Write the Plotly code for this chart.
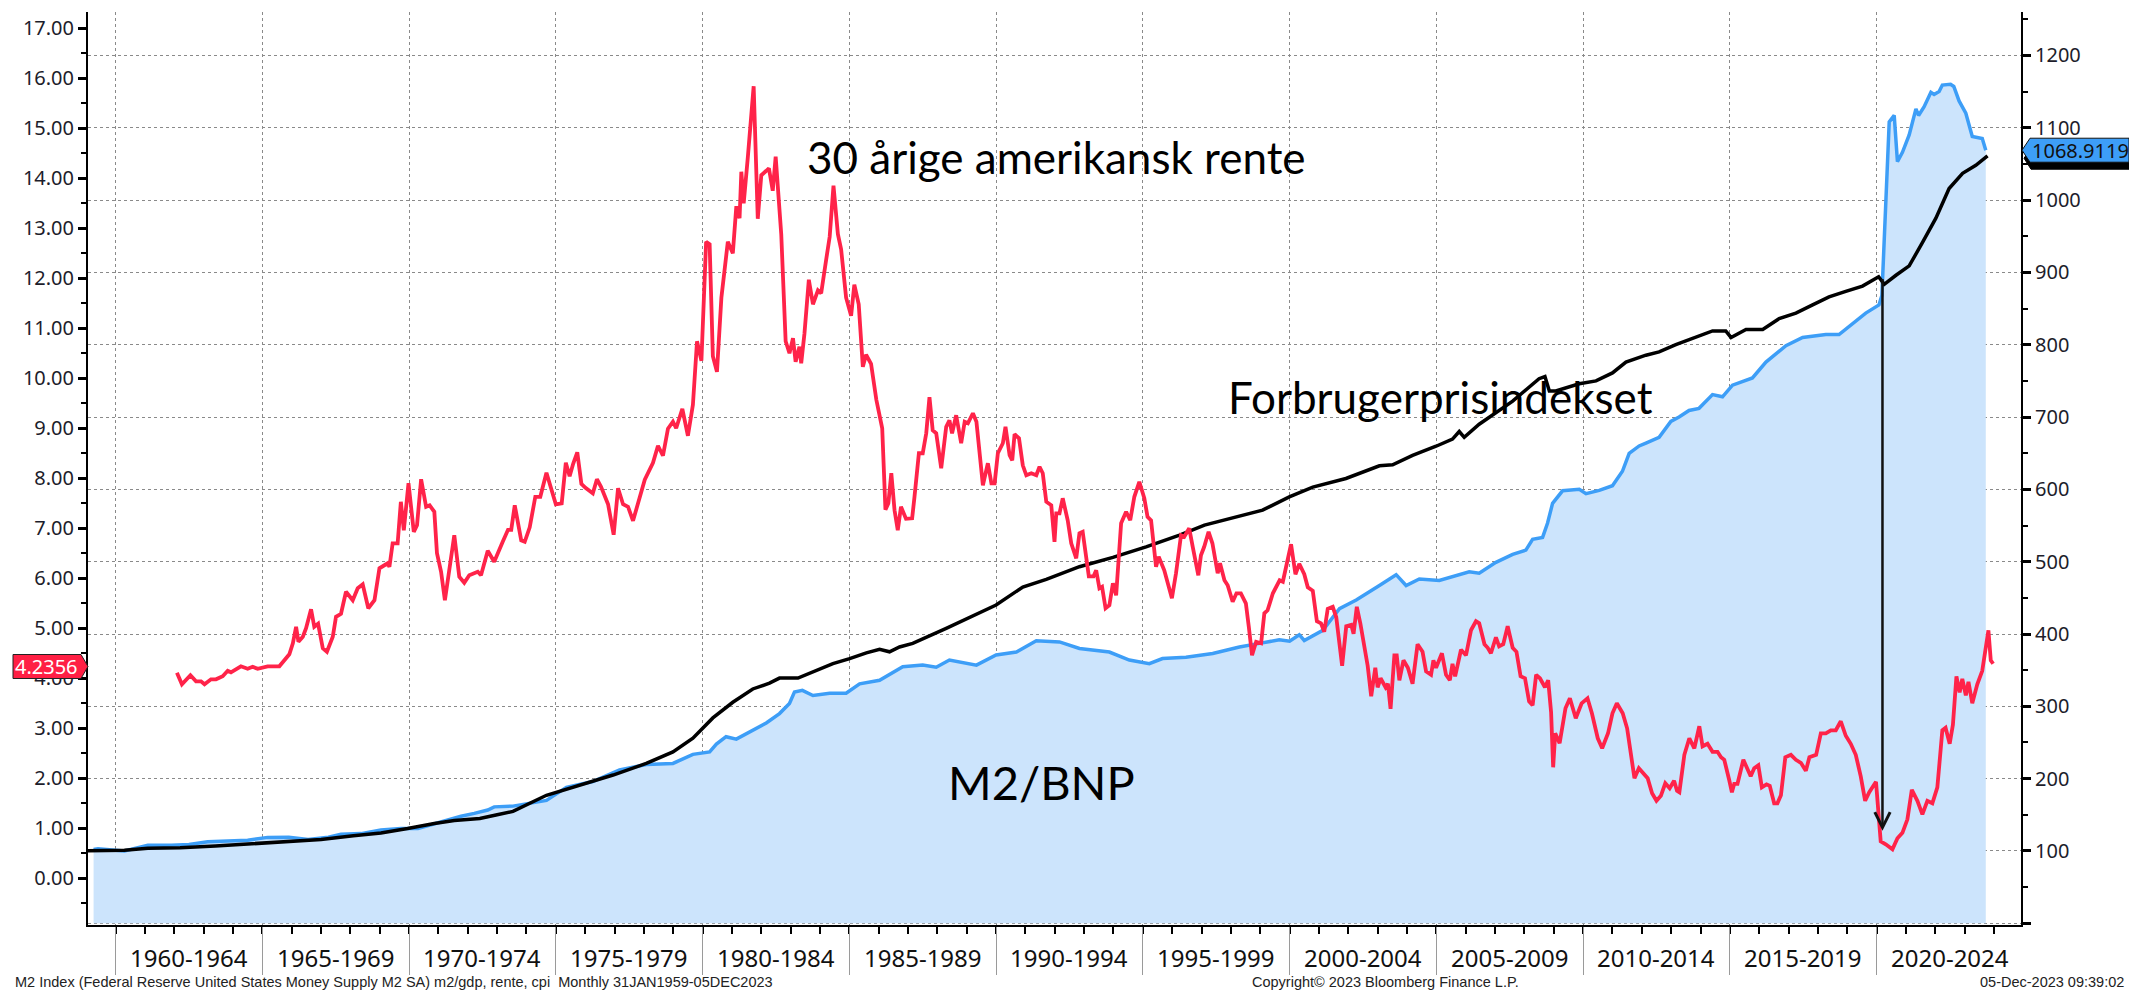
import plotly.graph_objects as go

# ---------------- data ----------------
rate_years = [1962.09, 1962.26, 1962.55, 1962.74, 1962.91, 1963.03, 1963.25, 1963.42, 1963.65, 1963.82,
              1963.93, 1964.27, 1964.50, 1964.67, 1964.84, 1965.18, 1965.58, 1965.75, 1965.92, 1966.04,
              1966.15, 1966.23, 1966.38, 1966.49, 1966.66, 1966.77, 1966.90, 1967.06, 1967.20, 1967.40,
              1967.51, 1967.68, 1967.85, 1968.08, 1968.25, 1968.42, 1968.61, 1968.82, 1968.99, 1969.27,
              1969.33, 1969.44, 1969.61, 1969.72, 1969.82, 1969.98, 1970.16, 1970.27, 1970.41, 1970.58,
              1970.70, 1970.86, 1970.95, 1971.09, 1971.22, 1971.54, 1971.71, 1971.88, 1972.05, 1972.34,
              1972.45, 1972.68, 1972.90, 1973.19, 1973.37, 1973.48, 1973.60, 1973.82, 1973.94, 1974.11,
              1974.30, 1974.47, 1974.68, 1975.00, 1975.20, 1975.34, 1975.47, 1975.59, 1975.73, 1975.87,
              1976.01, 1976.26, 1976.40, 1976.54, 1976.78, 1976.97, 1977.12, 1977.29, 1977.46, 1977.63,
              1977.85, 1978.03, 1978.31, 1978.48, 1978.65, 1978.82, 1978.99, 1979.10, 1979.31, 1979.50,
              1979.67, 1979.81, 1979.96, 1980.04, 1980.12, 1980.24, 1980.35, 1980.49, 1980.64, 1980.86,
              1981.03, 1981.15, 1981.26, 1981.32, 1981.40, 1981.54, 1981.74, 1981.88, 1982.00, 1982.17,
              1982.26, 1982.39, 1982.49, 1982.68, 1982.83, 1982.96, 1983.08, 1983.17, 1983.30, 1983.36,
              1983.47, 1983.62, 1983.76, 1983.93, 1984.04, 1984.21, 1984.33, 1984.46, 1984.61, 1984.72,
              1984.89, 1985.06, 1985.17, 1985.32, 1985.46, 1985.57, 1985.74, 1985.92, 1986.03, 1986.12,
              1986.23, 1986.33, 1986.43, 1986.54, 1986.65, 1986.76, 1986.93, 1987.14, 1987.22, 1987.37,
              1987.50, 1987.62, 1987.73, 1987.84, 1987.96, 1988.13, 1988.30, 1988.41, 1988.50, 1988.64,
              1988.81, 1988.93, 1989.04, 1989.21, 1989.33, 1989.44, 1989.55, 1989.72, 1989.84, 1989.95,
              1990.06, 1990.23, 1990.32, 1990.46, 1990.55, 1990.63, 1990.78, 1990.91, 1991.03, 1991.20,
              1991.37, 1991.48, 1991.59, 1991.71, 1991.88, 1991.99, 1992.05, 1992.16, 1992.27, 1992.44,
              1992.56, 1992.73, 1992.84, 1992.95, 1993.16, 1993.32, 1993.41, 1993.52, 1993.61, 1993.73,
              1993.86, 1993.98, 1994.09, 1994.26, 1994.43, 1994.57, 1994.71, 1994.88, 1995.05, 1995.16,
              1995.28, 1995.45, 1995.54, 1995.73, 1995.88, 1995.99, 1996.13, 1996.30, 1996.41, 1996.58,
              1996.70, 1996.89, 1996.98, 1997.09, 1997.24, 1997.37, 1997.55, 1997.63, 1997.78, 1997.89,
              1998.06, 1998.19, 1998.34, 1998.51, 1998.61, 1998.72, 1998.86, 1999.03, 1999.14, 1999.25,
              1999.43, 1999.66, 1999.77, 2000.05, 2000.20, 2000.33, 2000.50, 2000.62, 2000.79, 2000.93,
              2001.07, 2001.18, 2001.30, 2001.47, 2001.59, 2001.79, 2001.93, 2002.10, 2002.18, 2002.29,
              2002.41, 2002.58, 2002.66, 2002.78, 2002.92, 2003.00, 2003.10, 2003.27, 2003.35, 2003.44,
              2003.57, 2003.65, 2003.74, 2003.88, 2004.03, 2004.19, 2004.36, 2004.53, 2004.65, 2004.82,
              2004.90, 2004.99, 2005.19, 2005.33, 2005.46, 2005.55, 2005.64, 2005.84, 2006.01, 2006.18,
              2006.35, 2006.46, 2006.64, 2006.75, 2006.86, 2007.03, 2007.14, 2007.28, 2007.43, 2007.60,
              2007.73, 2007.87, 2008.02, 2008.16, 2008.28, 2008.40, 2008.53, 2008.70, 2008.81, 2008.91,
              2008.98, 2009.05, 2009.20, 2009.40, 2009.55, 2009.75, 2009.95, 2010.15, 2010.30, 2010.50,
              2010.65, 2010.85, 2011.00, 2011.15, 2011.35, 2011.50, 2011.65, 2011.75, 2011.90, 2012.05,
              2012.20, 2012.35, 2012.50, 2012.65, 2012.80, 2012.95, 2013.10, 2013.20, 2013.28, 2013.45,
              2013.62, 2013.79, 2013.96, 2014.07, 2014.24, 2014.41, 2014.58, 2014.70, 2014.81, 2014.98,
              2015.07, 2015.15, 2015.26, 2015.46, 2015.60, 2015.71, 2015.83, 2015.97, 2016.09, 2016.25,
              2016.36, 2016.51, 2016.62, 2016.74, 2016.89, 2017.08, 2017.25, 2017.42, 2017.59, 2017.71,
              2017.94, 2018.10, 2018.27, 2018.44, 2018.61, 2018.78, 2018.95, 2019.12, 2019.29, 2019.46,
              2019.61, 2019.75, 2019.98, 2020.14, 2020.31, 2020.54, 2020.71, 2020.88, 2021.05, 2021.20,
              2021.39, 2021.56, 2021.73, 2021.90, 2022.07, 2022.24, 2022.35, 2022.49, 2022.60, 2022.72,
              2022.83, 2022.92, 2023.04, 2023.13, 2023.26, 2023.43, 2023.60, 2023.69, 2023.81, 2023.89,
              2023.97]
rate_values = [4.11, 3.88, 4.06, 3.94, 3.94, 3.88, 3.98, 3.98, 4.04, 4.15,
               4.12, 4.24, 4.19, 4.23, 4.19, 4.24, 4.24, 4.36, 4.48, 4.70,
               5.03, 4.73, 4.83, 5.00, 5.38, 5.03, 5.09, 4.60, 4.53, 4.83,
               5.23, 5.29, 5.73, 5.56, 5.80, 5.88, 5.40, 5.56, 6.20, 6.30,
               6.23, 6.70, 6.70, 7.53, 6.96, 7.90, 6.93, 7.06, 7.98, 7.43,
               7.46, 7.33, 6.50, 6.13, 5.56, 6.86, 6.03, 5.91, 6.06, 6.13,
               6.06, 6.55, 6.33, 6.73, 6.97, 6.97, 7.46, 6.76, 6.73, 7.02,
               7.63, 7.63, 8.11, 7.48, 7.50, 8.31, 8.04, 8.29, 8.52, 7.89,
               7.81, 7.70, 7.98, 7.83, 7.48, 6.87, 7.80, 7.48, 7.43, 7.15,
               7.63, 7.97, 8.31, 8.65, 8.45, 8.99, 9.13, 9.00, 9.39, 8.85,
               9.47, 10.74, 10.35, 11.56, 12.73, 12.68, 10.44, 10.13, 11.61, 12.73,
               12.50, 13.44, 13.20, 14.13, 13.50, 14.41, 15.84, 13.19, 14.06, 14.15,
               14.20, 13.75, 14.43, 12.88, 10.74, 10.50, 10.80, 10.33, 10.63, 10.30,
               10.89, 11.97, 11.48, 11.76, 11.70, 12.37, 12.83, 13.85, 12.88, 12.58,
               11.61, 11.25, 11.87, 11.48, 10.23, 10.47, 10.29, 9.57, 9.20, 9.00,
               7.37, 7.50, 8.10, 7.36, 6.96, 7.43, 7.19, 7.20, 7.63, 8.50,
               8.50, 8.90, 9.62, 8.96, 8.90, 8.20, 9.03, 9.16, 8.90, 9.26,
               8.70, 9.13, 9.10, 9.30, 9.13, 8.50, 7.86, 8.30, 7.90, 7.90,
               8.50, 8.70, 9.03, 8.46, 8.36, 8.88, 8.80, 8.26, 8.06, 8.10,
               8.06, 8.23, 8.10, 7.53, 7.46, 6.73, 7.30, 7.30, 7.60, 7.16,
               6.70, 6.40, 6.90, 6.93, 6.04, 6.04, 6.16, 5.80, 5.83, 5.40,
               5.46, 5.90, 5.66, 7.10, 7.33, 7.16, 7.63, 7.93, 7.60, 7.23,
               7.16, 6.23, 6.43, 6.16, 5.83, 5.60, 6.10, 6.86, 6.83, 7.00,
               6.63, 6.06, 6.46, 6.63, 6.93, 6.70, 6.10, 6.30, 5.96, 5.86,
               5.53, 5.70, 5.70, 5.50, 5.03, 4.46, 4.73, 4.70, 5.30, 5.36,
               5.70, 5.96, 5.93, 6.68, 6.08, 6.29, 6.08, 5.82, 5.75, 5.14,
               5.10, 4.93, 5.39, 5.43, 5.22, 4.25, 5.04, 5.07, 4.89, 5.43,
               5.10, 4.54, 4.25, 3.64, 4.21, 3.82, 4.00, 3.82, 3.89, 3.39,
               4.46, 4.46, 3.96, 4.36, 4.21, 3.89, 4.68, 4.53, 4.14, 4.07,
               4.36, 4.21, 4.50, 4.07, 3.96, 4.29, 4.04, 4.57, 4.46, 4.96,
               5.14, 5.10, 4.68, 4.61, 4.50, 4.82, 4.64, 4.68, 5.04, 4.61,
               4.53, 4.04, 4.00, 3.54, 3.46, 4.07, 4.00, 3.82, 3.96, 3.32,
               2.22, 2.90, 2.70, 3.40, 3.60, 3.20, 3.50, 3.60, 3.30, 2.80,
               2.60, 2.90, 3.30, 3.50, 3.30, 3.00, 2.40, 2.00, 2.20, 2.10,
               2.00, 1.70, 1.55, 1.65, 1.90, 1.80, 1.95, 1.75, 1.72, 2.47,
               2.80, 2.60, 3.04, 2.64, 2.69, 2.53, 2.53, 2.42, 2.37, 1.96,
               1.72, 1.89, 1.89, 2.37, 2.20, 2.04, 2.20, 2.26, 1.82, 1.88,
               1.85, 1.50, 1.50, 1.66, 2.42, 2.47, 2.37, 2.31, 2.15, 2.42,
               2.47, 2.90, 2.90, 2.96, 2.96, 3.14, 2.85, 2.69, 2.47, 2.04,
               1.55, 1.72, 1.93, 0.74, 0.68, 0.58, 0.80, 0.91, 1.18, 1.77,
               1.55, 1.28, 1.55, 1.50, 1.82, 2.96, 3.01, 2.69, 3.07, 4.04,
               3.72, 3.99, 3.66, 3.93, 3.50, 3.88, 4.15, 4.47, 4.96, 4.36,
               4.29]

cpi_years = [1959.05, 1960.30, 1961.10, 1962.20, 1963.40, 1964.95, 1965.90, 1967.00, 1968.10, 1969.04,
             1969.95, 1970.86, 1971.54, 1972.41, 1973.00, 1973.54, 1974.68, 1975.81, 1976.95, 1978.08,
             1978.99, 1979.67, 1980.35, 1981.03, 1981.71, 1982.28, 1982.62, 1983.25, 1983.76, 1984.44,
             1985.01, 1985.58, 1986.03, 1986.37, 1986.71, 1987.16, 1988.30, 1989.43, 1990.00, 1990.91,
             1991.71, 1992.84, 1993.98, 1995.11, 1996.25, 1997.10, 1997.95, 1999.08, 1999.99, 2000.79,
             2001.92, 2003.06, 2003.51, 2004.19, 2004.99, 2005.55, 2005.78, 2005.95, 2006.46, 2007.60,
             2008.50, 2008.70, 2008.85, 2009.07, 2009.87, 2010.44, 2011.00, 2011.46, 2012.14, 2012.59,
             2013.16, 2013.84, 2014.41, 2014.86, 2015.04, 2015.55, 2016.12, 2016.68, 2017.25, 2017.82,
             2018.38, 2018.95, 2019.52, 2020.07, 2020.26, 2020.66, 2021.11, 2021.56, 2022.02, 2022.47,
             2022.93, 2023.38, 2023.78]
cpi_values = [100.3, 101.0, 103.6, 104.5, 106.8, 110.5, 113.0, 116.0, 121.0, 125.0,
              131.0, 138.0, 142.0, 145.0, 150.0, 154.7, 177.0, 191.0, 205.0, 221.0,
              237.0, 256.0, 284.0, 305.6, 324.0, 332.0, 339.0, 339.0, 348.0, 359.0,
              366.0, 374.0, 379.0, 375.4, 382.0, 387.0, 407.7, 428.5, 440.0, 465.0,
              475.4, 493.0, 506.0, 520.5, 536.7, 550.5, 559.8, 571.2, 589.6, 603.0,
              615.0, 632.5, 634.0, 647.0, 659.6, 669.5, 680.0, 672.0, 690.0, 722.0,
              753.0, 756.0, 736.0, 736.0, 746.0, 750.0, 761.0, 776.0, 785.5, 790.0,
              800.0, 810.0, 819.0, 819.0, 810.0, 821.0, 821.0, 836.0, 843.7, 855.0,
              866.0, 873.7, 881.0, 894.0, 883.5, 896.0, 909.0, 941.0, 975.0, 1016.0,
              1037.0, 1048.0, 1061.0]

m2_years = [1959.25, 1959.40, 1960.30, 1961.10, 1961.90, 1962.50, 1963.14, 1963.80, 1964.50, 1965.18,
            1965.90, 1966.56, 1967.25, 1967.68, 1968.36, 1969.04, 1969.72, 1970.30, 1970.74, 1971.30,
            1971.77, 1972.22, 1972.68, 1972.90, 1973.19, 1973.54, 1974.68, 1975.36, 1976.26, 1977.17,
            1978.08, 1978.99, 1979.67, 1980.24, 1980.47, 1980.80, 1981.15, 1981.71, 1982.17, 1982.62,
            1982.96, 1983.13, 1983.40, 1983.76, 1984.33, 1984.89, 1985.35, 1986.03, 1986.60, 1986.82,
            1987.50, 1987.96, 1988.41, 1989.33, 1990.00, 1990.69, 1991.37, 1992.16, 1992.84, 1993.86,
            1994.54, 1995.22, 1995.67, 1996.47, 1997.38, 1998.29, 1998.97, 1999.65, 2000.00, 2000.33,
            2000.50, 2001.13, 2001.70, 2002.27, 2003.06, 2003.63, 2003.97, 2004.42, 2005.10, 2005.78,
            2006.12, 2006.46, 2007.03, 2007.60, 2008.05, 2008.28, 2008.62, 2008.79, 2008.96, 2009.30,
            2009.87, 2010.10, 2010.55, 2011.00, 2011.34, 2011.57, 2011.91, 2012.14, 2012.59, 2012.99,
            2013.27, 2013.61, 2013.95, 2014.41, 2014.75, 2015.09, 2015.77, 2016.23, 2016.91, 2017.48,
            2018.27, 2018.72, 2019.18, 2019.63, 2020.08, 2020.18, 2020.43, 2020.60, 2020.71, 2020.88,
            2021.11, 2021.34, 2021.43, 2021.62, 2021.85, 2021.96, 2022.13, 2022.24, 2022.52, 2022.63,
            2022.81, 2023.04, 2023.26, 2023.43, 2023.60, 2023.72]
m2_values = [102.0, 103.0, 100.0, 108.0, 108.0, 109.0, 112.8, 114.0, 115.0, 118.8,
             119.0, 116.0, 119.0, 123.0, 124.0, 129.0, 131.0, 131.0, 136.0, 143.0,
             148.0, 152.0, 156.6, 161.0, 161.0, 162.0, 170.0, 188.0, 196.0, 212.0,
             219.5, 221.0, 233.6, 237.0, 247.7, 258.0, 254.6, 267.5, 277.0, 290.0,
             304.0, 319.7, 322.0, 315.0, 318.0, 318.0, 331.0, 336.0, 350.0, 354.7,
             357.0, 354.0, 364.0, 357.0, 371.0, 375.0, 390.6, 389.0, 380.0, 375.0,
             364.0, 359.0, 366.0, 368.0, 373.0, 382.0, 387.0, 392.0, 390.0, 399.0,
             391.0, 405.0, 435.0, 447.0, 467.0, 482.0, 467.0, 476.0, 474.0, 482.0,
             486.0, 484.0, 499.0, 510.0, 516.0, 531.0, 533.5, 553.4, 580.6, 598.0,
             600.0, 594.0, 598.6, 605.0, 625.0, 649.8, 660.0, 664.0, 672.0, 694.0,
             700.0, 709.0, 712.0, 731.0, 728.0, 744.0, 754.0, 776.0, 798.7, 810.0,
             814.0, 814.0, 829.0, 843.7, 855.0, 868.0, 1108.0, 1117.0, 1053.0, 1066.0,
             1090.0, 1126.0, 1117.0, 1129.0, 1149.0, 1146.0, 1150.0, 1159.0, 1160.0, 1157.0,
             1137.0, 1120.0, 1088.0, 1087.0, 1085.0, 1069.0]

period_labels = ["1960-1964", "1965-1969", "1970-1974", "1975-1979", "1980-1984", "1985-1989",
                 "1990-1994", "1995-1999", "2000-2004", "2005-2009", "2010-2014", "2015-2019", "2020-2024"]
period_starts = [1960, 1965, 1970, 1975, 1980, 1985, 1990, 1995, 2000, 2005, 2010, 2015, 2020]

left_ticks = list(range(0, 18))
right_ticks = list(range(0, 1300, 100))

last_rate = 4.2356
last_m2 = 1068.9119

arrow_year = 2020.2
arrow_top = 893
arrow_bottom = 128

# ---------------- axes ranges ----------------
X_RANGE = [1959.06, 2024.92]
Y_LEFT = [-0.934, 17.325]
Y_RIGHT = [-2.35, 1260.0]

TICK_FONT = dict(family="Noto Sans, Liberation Sans, sans-serif", size=20, color="#1d1d2b")
BIG_FONT = dict(family="Lato, Noto Sans, sans-serif", size=44, color="black")

RED = "#ff2349"
BLUE = "#3d9ef7"
FILL = "#cce4fc"

fig = go.Figure()
fig.add_trace(go.Scatter(x=m2_years, y=m2_values, yaxis="y", mode="lines",
                         line=dict(color=BLUE, width=3.5), fill="tozeroy", fillcolor=FILL,
                         hoverinfo="skip"))
fig.add_trace(go.Scatter(x=cpi_years, y=cpi_values, yaxis="y", mode="lines",
                         line=dict(color="black", width=3.5), hoverinfo="skip"))
fig.add_trace(go.Scatter(x=rate_years, y=rate_values, yaxis="y2", mode="lines",
                         line=dict(color=RED, width=3.8), hoverinfo="skip"))

fig.update_layout(
    width=2129, height=991,
    margin=dict(l=88, r=108, t=12, b=66),
    plot_bgcolor="white", paper_bgcolor="white",
    showlegend=False, hovermode=False,
    xaxis=dict(range=X_RANGE, tickmode="array", tickvals=period_starts,
               ticks="outside", ticklen=48, tickcolor="#9a9a9a", tickwidth=1,
               showticklabels=False, showgrid=True, gridcolor="#8a8a8a", griddash="dot", gridwidth=1,
               showline=True, linecolor="black", linewidth=2, zeroline=False,
               minor=dict(tickmode="linear", tick0=1959, dtick=1, ticks="outside", ticklen=7,
                          tickcolor="black", tickwidth=1.5, showgrid=False)),
    yaxis=dict(side="right", range=Y_RIGHT, tickmode="array", tickvals=right_ticks,
               ticktext=["" if v == 0 else str(v) for v in right_ticks],
               ticks="outside", ticklen=8, tickwidth=2.5, tickcolor="black",
               showline=True, linecolor="black", linewidth=2,
               showgrid=True, gridcolor="#8a8a8a", griddash="dot", gridwidth=1,
               zeroline=False, tickfont=TICK_FONT,
               minor=dict(tickmode="linear", tick0=0, dtick=50, ticks="outside", ticklen=5,
                          tickcolor="black", tickwidth=1.5, showgrid=False)),
    yaxis2=dict(overlaying="y", side="left", range=Y_LEFT, tickmode="array", tickvals=left_ticks,
                ticktext=[f"{v:.2f}" for v in left_ticks],
                ticks="outside", ticklen=8, tickwidth=2.5, tickcolor="black",
                showline=True, linecolor="black", linewidth=2, showgrid=False,
                zeroline=False, tickfont=TICK_FONT,
                minor=dict(tickmode="linear", tick0=0, dtick=0.5, ticks="outside", ticklen=5,
                           tickcolor="black", tickwidth=1.5, showgrid=False)),
)

annotations = []
# period labels under the x axis
for start, lab in zip(period_starts, period_labels):
    annotations.append(dict(x=start + 2.5, xref="x", y=0, yref="paper", yshift=-32,
                            yanchor="middle", xanchor="center", text=lab, showarrow=False,
                            borderpad=0,
                            font=dict(family="Noto Sans, Liberation Sans, sans-serif", size=24, color="#111")))

# series labels in the chart
annotations += [
    dict(x=1992.06, xref="x", y=1059, yref="y", text="30 årige amerikansk rente", showarrow=False,
         font=BIG_FONT, xanchor="center", yanchor="middle"),
    dict(x=2005.15, xref="x", y=727, yref="y", text="Forbrugerprisindekset", showarrow=False,
         font=BIG_FONT, xanchor="center", yanchor="middle"),
    dict(x=1991.55, xref="x", y=195, yref="y", text="M2/BNP", showarrow=False,
         font=dict(family="Lato, Noto Sans, sans-serif", size=47, color="black"),
         xanchor="center", yanchor="middle"),
]

# arrow
annotations.append(dict(x=arrow_year, y=arrow_bottom, xref="x", yref="y",
                        ax=arrow_year, ay=arrow_top, axref="x", ayref="y",
                        text="", showarrow=True, arrowhead=5, arrowsize=1.2,
                        arrowwidth=2.5, arrowcolor="#111"))

# footer
FOOT = dict(family="Liberation Sans, Noto Sans, sans-serif", size=14.5, color="#222")
annotations += [
    dict(x=0, xref="paper", xshift=-74, y=0, yref="paper", yshift=-66, xanchor="left", yanchor="bottom",
         borderpad=0,
         text="M2 Index (Federal Reserve United States Money Supply M2 SA) m2/gdp, rente, cpi  Monthly 31JAN1959-05DEC2023",
         showarrow=False, font=FOOT),
    dict(x=0.671, xref="paper", y=0, yref="paper", yshift=-66, xanchor="center", yanchor="bottom",
         borderpad=0, text="Copyright© 2023 Bloomberg Finance L.P.", showarrow=False, font=FOOT),
    dict(x=1, xref="paper", xshift=104, y=0, yref="paper", yshift=-66, xanchor="right", yanchor="bottom",
         borderpad=0, text="05-Dec-2023 09:39:02", showarrow=False, font=FOOT),
]

# last-value tags
rate_pos = (last_rate - Y_LEFT[0]) / (Y_LEFT[1] - Y_LEFT[0])
m2_pos = (last_m2 - Y_RIGHT[0]) / (Y_RIGHT[1] - Y_RIGHT[0])

shapes = [
    dict(type="path", xref="paper", yref="paper", xsizemode="pixel", ysizemode="pixel",
         xanchor=0, yanchor=rate_pos, path="M -75,12 L -7,12 L 0,0 L -7,-12 L -75,-12 Z",
         fillcolor="#ff1f44", line=dict(color="#222", width=1), layer="above"),
    dict(type="path", xref="paper", yref="paper", xsizemode="pixel", ysizemode="pixel",
         xanchor=1, yanchor=m2_pos, path="M 3,-8 L 10,2 L 108,2 L 108,-19 L 10,-19 Z",
         fillcolor="black", line=dict(color="black", width=1), layer="above"),
    dict(type="path", xref="paper", yref="paper", xsizemode="pixel", ysizemode="pixel",
         xanchor=1, yanchor=m2_pos, path="M 1,0 L 9,12 L 108,12 L 108,-12 L 9,-12 Z",
         fillcolor="#3d9ef7", line=dict(color="#111", width=1), layer="above"),
]
annotations += [
    dict(x=0, xref="paper", xshift=-42, y=rate_pos, yref="paper", xanchor="center", yanchor="middle",
         text=f"{last_rate:.4f}", showarrow=False,
         font=dict(family="Noto Sans, Liberation Sans, sans-serif", size=20, color="white")),
    dict(x=1, xref="paper", xshift=9, y=m2_pos, yref="paper", xanchor="left", yanchor="middle",
         text=f"{last_m2:.4f}", showarrow=False,
         font=dict(family="Noto Sans, Liberation Sans, sans-serif", size=20, color="#111")),
]

fig.update_layout(annotations=annotations, shapes=shapes)
fig.write_html("out.html", config={"displayModeBar": False},
               post_script="document.body.style.margin='0';document.body.style.overflow='hidden';")
